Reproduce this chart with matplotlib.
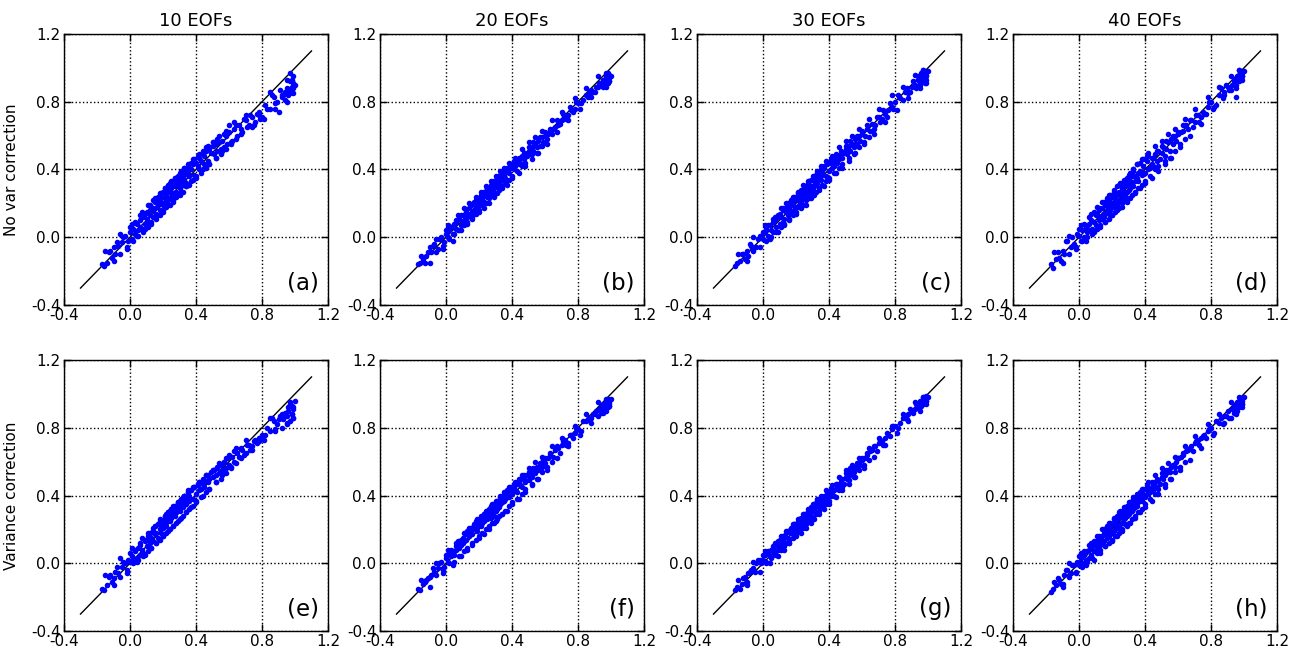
import matplotlib
matplotlib.use("Agg")
import matplotlib.pyplot as plt

# ---- data ----
col_titles = ["10 EOFs", "20 EOFs", "30 EOFs", "40 EOFs"]
row_labels = ["No var correction", "Variance correction"]
panel_tags = ["(a)", "(b)", "(c)", "(d)", "(e)", "(f)", "(g)", "(h)"]
ticks = [-0.4, 0.0, 0.4, 0.8, 1.2]
tick_labels = ["-0.4", "0.0", "0.4", "0.8", "1.2"]
diag = [-0.3, 1.1]

x_true = [
    -0.17, -0.16, -0.14, -0.12, -0.10, -0.09, -0.07, -0.05, -0.03, -0.01,
    0.00, 0.01, 0.02, 0.03, 0.04, 0.05, 0.06, 0.06, 0.07, 0.08,
    0.09, 0.10, 0.10, 0.11, 0.12, 0.12, 0.13, 0.14, 0.14, 0.15,
    0.15, 0.16, 0.17, 0.17, 0.18, 0.18, 0.19, 0.19, 0.20, 0.20,
    0.21, 0.21, 0.22, 0.22, 0.23, 0.23, 0.24, 0.24, 0.25, 0.25,
    0.26, 0.26, 0.27, 0.27, 0.28, 0.28, 0.29, 0.29, 0.30, 0.30,
    0.31, 0.31, 0.32, 0.32, 0.33, 0.33, 0.34, 0.34, 0.35, 0.36,
    0.36, 0.37, 0.38, 0.39, 0.40, 0.41, 0.42, 0.42, 0.43, 0.44,
    0.45, 0.45, 0.46, 0.47, 0.48, 0.49, 0.50, 0.51, 0.52, 0.53,
    0.54, 0.55, 0.56, 0.57, 0.58, 0.59, 0.60, 0.62, 0.63, 0.65,
    0.66, 0.68, 0.70, 0.72, 0.74, 0.76, 0.78, 0.80, 0.83, 0.86,
    0.88, 0.90, 0.92, 0.94, 0.95, 0.96, 0.97, 0.98, 0.99, 1.00,
]
x_true2 = [
    -0.13, -0.11, -0.08, -0.06, -0.04, -0.02, 0.00, 0.02, 0.03, 0.05,
    0.06, 0.08, 0.09, 0.11, 0.12, 0.13, 0.15, 0.16, 0.17, 0.18,
    0.19, 0.20, 0.21, 0.22, 0.23, 0.24, 0.25, 0.26, 0.27, 0.28,
    0.29, 0.30, 0.31, 0.32, 0.33, 0.34, 0.35, 0.36, 0.37, 0.38,
    0.39, 0.40, 0.41, 0.43, 0.44, 0.46, 0.47, 0.48, 0.50, 0.52,
    0.53, 0.55, 0.57, 0.58, 0.60, 0.61, 0.63, 0.64, 0.67, 0.69,
    0.71, 0.73, 0.75, 0.77, 0.79, 0.82, 0.85, 0.87, 0.89, 0.91,
    0.93, 0.94, 0.95, 0.96, 0.97, 0.97, 0.98, 0.98, 0.99, 0.99,
]
x_true3 = [
    -0.15, -0.10, -0.06, -0.02, 0.01, 0.04, 0.07, 0.09, 0.11, 0.13,
    0.14, 0.16, 0.18, 0.20, 0.21, 0.23, 0.24, 0.26, 0.27, 0.29,
    0.30, 0.31, 0.33, 0.34, 0.35, 0.37, 0.38, 0.40, 0.42, 0.44,
    0.46, 0.48, 0.50, 0.52, 0.54, 0.56, 0.58, 0.61, 0.64, 0.67,
    0.70, 0.74, 0.78, 0.81, 0.85, 0.88, 0.92, 0.95, 0.97, 0.99,
]

y_a = [
    -0.16, -0.17, -0.15, -0.08, -0.06, -0.10, -0.05, -0.03, 0.01, -0.02,
    0.03, -0.01, 0.05, 0.02, 0.08, 0.04, 0.10, 0.06, 0.05, 0.12,
    0.08, 0.15, 0.11, 0.09, 0.16, 0.13, 0.18, 0.12, 0.16, 0.21,
    0.17, 0.14, 0.22, 0.19, 0.25, 0.16, 0.21, 0.24, 0.19, 0.27,
    0.23, 0.26, 0.20, 0.25, 0.28, 0.22, 0.27, 0.30, 0.24, 0.29,
    0.33, 0.26, 0.30, 0.32, 0.27, 0.35, 0.31, 0.34, 0.29, 0.36,
    0.33, 0.38, 0.31, 0.35, 0.37, 0.34, 0.39, 0.32, 0.38, 0.41,
    0.36, 0.40, 0.43, 0.37, 0.44, 0.42, 0.47, 0.40, 0.45, 0.49,
    0.43, 0.48, 0.51, 0.45, 0.52, 0.50, 0.54, 0.49, 0.55, 0.51,
    0.56, 0.52, 0.57, 0.53, 0.60, 0.55, 0.62, 0.57, 0.64, 0.60,
    0.66, 0.62, 0.69, 0.66, 0.71, 0.68, 0.74, 0.71, 0.76, 0.84,
    0.79, 0.74, 0.83, 0.81, 0.88, 0.84, 0.92, 0.89, 0.95, 0.90,
]
y_a2 = [
    -0.09, -0.12, -0.03, -0.10, 0.00, -0.06, 0.06, -0.02, 0.09, 0.01,
    0.13, 0.03, 0.14, 0.06, 0.19, 0.08, 0.23, 0.11, 0.24, 0.13,
    0.26, 0.15, 0.29, 0.18, 0.31, 0.19, 0.33, 0.21, 0.35, 0.24,
    0.36, 0.25, 0.39, 0.27, 0.41, 0.30, 0.42, 0.31, 0.44, 0.34,
    0.46, 0.35, 0.48, 0.38, 0.51, 0.41, 0.54, 0.43, 0.56, 0.47,
    0.58, 0.49, 0.61, 0.52, 0.66, 0.55, 0.68, 0.58, 0.64, 0.70,
    0.65, 0.72, 0.66, 0.73, 0.70, 0.78, 0.76, 0.83, 0.80, 0.87,
    0.84, 0.86, 0.93, 0.87, 0.97, 0.85, 0.93, 0.86, 0.91, 0.88,
]
y_a3 = [
    -0.08, -0.14, 0.02, -0.07, 0.08, 0.01, 0.15, 0.05, 0.19, 0.09,
    0.22, 0.12, 0.26, 0.16, 0.29, 0.19, 0.32, 0.22, 0.35, 0.25,
    0.38, 0.27, 0.41, 0.30, 0.43, 0.33, 0.46, 0.36, 0.49, 0.40,
    0.53, 0.43, 0.56, 0.47, 0.60, 0.51, 0.63, 0.56, 0.66, 0.61,
    0.72, 0.65, 0.72, 0.70, 0.86, 0.76, 0.84, 0.80, 0.87, 0.85,
]
y_b = [
    -0.16, -0.15, -0.13, -0.11, -0.06, -0.09, -0.04, -0.07, 0.00, -0.03,
    0.02, 0.00, 0.04, 0.06, 0.02, 0.08, 0.05, 0.09, 0.04, 0.11,
    0.07, 0.13, 0.09, 0.10, 0.15, 0.11, 0.12, 0.17, 0.13, 0.14,
    0.19, 0.15, 0.20, 0.16, 0.22, 0.18, 0.17, 0.23, 0.21, 0.19,
    0.24, 0.20, 0.25, 0.23, 0.27, 0.21, 0.26, 0.25, 0.29, 0.24,
    0.28, 0.25, 0.30, 0.27, 0.31, 0.28, 0.33, 0.29, 0.32, 0.30,
    0.34, 0.30, 0.35, 0.32, 0.36, 0.33, 0.37, 0.34, 0.36, 0.39,
    0.35, 0.40, 0.38, 0.41, 0.42, 0.40, 0.44, 0.42, 0.45, 0.43,
    0.47, 0.44, 0.48, 0.46, 0.50, 0.48, 0.51, 0.49, 0.53, 0.51,
    0.55, 0.53, 0.57, 0.54, 0.59, 0.56, 0.60, 0.61, 0.62, 0.64,
    0.65, 0.66, 0.69, 0.71, 0.72, 0.75, 0.76, 0.79, 0.81, 0.83,
    0.87, 0.86, 0.89, 0.90, 0.92, 0.91, 0.94, 0.93, 0.96, 0.95,
]
y_b2 = [
    -0.15, -0.09, -0.05, -0.09, -0.01, -0.05, 0.04, -0.01, 0.06, 0.02,
    0.10, 0.04, 0.13, 0.07, 0.16, 0.09, 0.19, 0.12, 0.21, 0.14,
    0.23, 0.16, 0.25, 0.19, 0.27, 0.20, 0.29, 0.23, 0.31, 0.25,
    0.33, 0.26, 0.35, 0.28, 0.37, 0.30, 0.39, 0.32, 0.41, 0.34,
    0.43, 0.36, 0.45, 0.39, 0.47, 0.42, 0.50, 0.44, 0.53, 0.49,
    0.56, 0.50, 0.59, 0.54, 0.62, 0.58, 0.64, 0.61, 0.69, 0.67,
    0.73, 0.70, 0.77, 0.74, 0.80, 0.79, 0.84, 0.86, 0.86, 0.89,
    0.91, 0.90, 0.93, 0.92, 0.95, 0.89, 0.97, 0.91, 0.94, 0.92,
]
y_b3 = [
    -0.11, -0.15, -0.01, -0.07, 0.07, -0.02, 0.13, 0.04, 0.17, 0.08,
    0.20, 0.11, 0.24, 0.15, 0.27, 0.17, 0.30, 0.20, 0.33, 0.24,
    0.36, 0.26, 0.39, 0.29, 0.41, 0.31, 0.44, 0.35, 0.47, 0.38,
    0.52, 0.42, 0.56, 0.46, 0.59, 0.50, 0.63, 0.55, 0.69, 0.62,
    0.74, 0.69, 0.82, 0.76, 0.88, 0.83, 0.95, 0.89, 0.97, 0.92,
]
y_c = [
    -0.17, -0.15, -0.14, -0.10, -0.08, -0.11, -0.05, -0.06, -0.01, 0.01,
    -0.01, 0.03, 0.05, 0.01, 0.07, 0.04, 0.09, 0.03, 0.10, 0.06,
    0.12, 0.08, 0.14, 0.12, 0.09, 0.16, 0.11, 0.17, 0.15, 0.13,
    0.19, 0.17, 0.15, 0.21, 0.19, 0.23, 0.16, 0.22, 0.24, 0.18,
    0.22, 0.25, 0.19, 0.26, 0.24, 0.21, 0.28, 0.23, 0.27, 0.25,
    0.30, 0.24, 0.28, 0.31, 0.26, 0.33, 0.30, 0.27, 0.34, 0.29,
    0.33, 0.30, 0.35, 0.31, 0.37, 0.32, 0.35, 0.38, 0.34, 0.39,
    0.37, 0.41, 0.36, 0.43, 0.39, 0.44, 0.41, 0.45, 0.42, 0.46,
    0.44, 0.48, 0.46, 0.49, 0.47, 0.50, 0.52, 0.49, 0.54, 0.51,
    0.55, 0.53, 0.58, 0.55, 0.60, 0.57, 0.61, 0.60, 0.64, 0.63,
    0.67, 0.66, 0.71, 0.70, 0.73, 0.75, 0.77, 0.80, 0.82, 0.86,
    0.85, 0.89, 0.90, 0.93, 0.91, 0.95, 0.93, 0.97, 0.95, 0.98,
]
y_c2 = [
    -0.10, -0.13, -0.04, -0.08, -0.06, 0.01, 0.03, -0.02, 0.07, 0.00,
    0.11, 0.03, 0.13, 0.06, 0.17, 0.08, 0.20, 0.11, 0.22, 0.13,
    0.24, 0.15, 0.26, 0.18, 0.28, 0.19, 0.30, 0.22, 0.32, 0.23,
    0.34, 0.25, 0.36, 0.27, 0.38, 0.29, 0.40, 0.31, 0.42, 0.33,
    0.44, 0.35, 0.46, 0.38, 0.49, 0.41, 0.51, 0.43, 0.54, 0.47,
    0.57, 0.49, 0.60, 0.53, 0.63, 0.56, 0.66, 0.59, 0.64, 0.71,
    0.68, 0.75, 0.71, 0.79, 0.76, 0.84, 0.81, 0.88, 0.86, 0.92,
    0.88, 0.95, 0.90, 0.97, 0.92, 0.99, 0.94, 0.91, 0.96, 0.93,
]
y_c3 = [
    -0.10, -0.14, 0.00, -0.06, 0.07, -0.01, 0.12, 0.03, 0.17, 0.07,
    0.20, 0.10, 0.24, 0.14, 0.27, 0.17, 0.31, 0.19, 0.33, 0.23,
    0.36, 0.25, 0.39, 0.28, 0.42, 0.30, 0.45, 0.34, 0.48, 0.38,
    0.53, 0.41, 0.57, 0.45, 0.60, 0.50, 0.64, 0.55, 0.70, 0.61,
    0.76, 0.68, 0.84, 0.75, 0.89, 0.82, 0.96, 0.88, 0.99, 0.91,
]
y_d = [
    -0.16, -0.18, -0.13, -0.12, -0.08, -0.10, -0.02, -0.06, -0.04, 0.02,
    0.01, -0.02, 0.04, 0.00, 0.06, 0.03, 0.08, 0.04, 0.10, 0.05,
    0.09, 0.13, 0.07, 0.14, 0.10, 0.16, 0.12, 0.11, 0.17, 0.14,
    0.12, 0.19, 0.16, 0.20, 0.14, 0.22, 0.18, 0.16, 0.24, 0.20,
    0.18, 0.23, 0.21, 0.25, 0.19, 0.26, 0.22, 0.27, 0.21, 0.25,
    0.29, 0.23, 0.27, 0.30, 0.25, 0.32, 0.27, 0.31, 0.28, 0.34,
    0.29, 0.33, 0.31, 0.36, 0.30, 0.39, 0.33, 0.36, 0.35, 0.38,
    0.33, 0.39, 0.37, 0.42, 0.38, 0.45, 0.40, 0.48, 0.41, 0.43,
    0.47, 0.42, 0.49, 0.45, 0.51, 0.46, 0.50, 0.53, 0.48, 0.52,
    0.56, 0.51, 0.58, 0.55, 0.60, 0.57, 0.61, 0.62, 0.63, 0.66,
    0.64, 0.69, 0.68, 0.72, 0.71, 0.73, 0.77, 0.80, 0.78, 0.88,
    0.86, 0.89, 0.87, 0.91, 0.83, 0.94, 0.92, 0.97, 0.95, 0.98,
]
y_d2 = [
    -0.09, -0.14, -0.02, -0.10, 0.00, -0.06, 0.05, -0.02, 0.08, 0.00,
    0.12, 0.02, 0.15, 0.05, 0.17, 0.07, 0.21, 0.09, 0.23, 0.11,
    0.25, 0.13, 0.27, 0.15, 0.30, 0.17, 0.32, 0.20, 0.33, 0.22,
    0.35, 0.23, 0.38, 0.25, 0.40, 0.27, 0.43, 0.29, 0.44, 0.31,
    0.46, 0.33, 0.48, 0.36, 0.47, 0.40, 0.51, 0.42, 0.54, 0.45,
    0.57, 0.47, 0.60, 0.51, 0.62, 0.55, 0.66, 0.58, 0.69, 0.65,
    0.72, 0.68, 0.74, 0.73, 0.80, 0.77, 0.84, 0.82, 0.90, 0.87,
    0.90, 0.93, 0.90, 0.95, 0.93, 0.99, 0.96, 0.94, 0.97, 0.95,
]
y_d3 = [
    -0.09, -0.15, 0.01, -0.07, 0.07, -0.02, 0.14, 0.03, 0.18, 0.06,
    0.21, 0.09, 0.25, 0.13, 0.28, 0.16, 0.31, 0.18, 0.34, 0.21,
    0.37, 0.23, 0.40, 0.26, 0.43, 0.29, 0.46, 0.32, 0.50, 0.35,
    0.54, 0.39, 0.57, 0.43, 0.61, 0.47, 0.64, 0.53, 0.70, 0.60,
    0.76, 0.67, 0.83, 0.76, 0.89, 0.84, 0.95, 0.88, 0.99, 0.93,
]
y_e = [
    -0.15, -0.16, -0.13, -0.07, -0.09, -0.05, -0.06, -0.02, 0.00, 0.02,
    0.01, 0.04, 0.02, 0.07, 0.03, 0.09, 0.05, 0.11, 0.08, 0.06,
    0.13, 0.10, 0.14, 0.16, 0.12, 0.18, 0.15, 0.19, 0.13, 0.17,
    0.22, 0.18, 0.15, 0.23, 0.20, 0.26, 0.18, 0.23, 0.25, 0.21,
    0.27, 0.24, 0.29, 0.22, 0.26, 0.30, 0.25, 0.28, 0.32, 0.27,
    0.29, 0.34, 0.28, 0.31, 0.33, 0.30, 0.36, 0.32, 0.35, 0.31,
    0.37, 0.34, 0.39, 0.33, 0.36, 0.40, 0.35, 0.38, 0.42, 0.37,
    0.40, 0.43, 0.38, 0.45, 0.41, 0.46, 0.43, 0.48, 0.44, 0.47,
    0.49, 0.45, 0.52, 0.48, 0.50, 0.54, 0.51, 0.55, 0.52, 0.56,
    0.53, 0.58, 0.55, 0.60, 0.56, 0.62, 0.58, 0.63, 0.60, 0.65,
    0.63, 0.67, 0.65, 0.70, 0.69, 0.73, 0.72, 0.76, 0.80, 0.86,
    0.78, 0.85, 0.80, 0.87, 0.83, 0.90, 0.94, 0.88, 0.92, 0.96,
]
y_e2 = [
    -0.08, -0.11, -0.02, -0.08, 0.01, -0.04, 0.06, 0.00, 0.08, 0.02,
    0.12, 0.04, 0.14, 0.07, 0.18, 0.09, 0.22, 0.12, 0.23, 0.14,
    0.25, 0.16, 0.28, 0.18, 0.30, 0.20, 0.32, 0.22, 0.34, 0.24,
    0.36, 0.26, 0.38, 0.28, 0.40, 0.30, 0.42, 0.32, 0.43, 0.34,
    0.45, 0.36, 0.47, 0.39, 0.50, 0.42, 0.52, 0.44, 0.55, 0.48,
    0.57, 0.50, 0.60, 0.53, 0.64, 0.56, 0.66, 0.59, 0.68, 0.64,
    0.70, 0.67, 0.72, 0.71, 0.74, 0.76, 0.78, 0.84, 0.82, 0.87,
    0.85, 0.89, 0.87, 0.92, 0.84, 0.95, 0.88, 0.93, 0.86, 0.91,
]
y_e3 = [
    -0.07, -0.13, 0.03, -0.06, 0.09, 0.01, 0.15, 0.05, 0.18, 0.09,
    0.21, 0.12, 0.25, 0.16, 0.28, 0.19, 0.31, 0.22, 0.34, 0.25,
    0.37, 0.27, 0.40, 0.30, 0.43, 0.33, 0.45, 0.37, 0.48, 0.40,
    0.52, 0.44, 0.55, 0.48, 0.59, 0.52, 0.62, 0.57, 0.68, 0.62,
    0.73, 0.67, 0.74, 0.73, 0.86, 0.79, 0.88, 0.82, 0.93, 0.86,
]
y_f = [
    -0.15, -0.16, -0.12, -0.10, -0.08, -0.07, -0.05, -0.03, 0.01, -0.02,
    0.03, 0.01, 0.06, 0.04, 0.07, 0.05, 0.10, 0.08, 0.12, 0.09,
    0.11, 0.15, 0.12, 0.13, 0.17, 0.14, 0.19, 0.16, 0.20, 0.18,
    0.21, 0.17, 0.22, 0.20, 0.24, 0.21, 0.26, 0.19, 0.25, 0.23,
    0.26, 0.22, 0.28, 0.24, 0.29, 0.25, 0.27, 0.30, 0.26, 0.31,
    0.29, 0.32, 0.27, 0.33, 0.30, 0.35, 0.28, 0.33, 0.31, 0.36,
    0.34, 0.32, 0.37, 0.33, 0.38, 0.35, 0.36, 0.39, 0.37, 0.40,
    0.38, 0.41, 0.39, 0.43, 0.41, 0.44, 0.43, 0.46, 0.42, 0.47,
    0.46, 0.49, 0.45, 0.50, 0.48, 0.52, 0.49, 0.53, 0.51, 0.55,
    0.53, 0.57, 0.55, 0.58, 0.57, 0.61, 0.59, 0.62, 0.65, 0.63,
    0.67, 0.68, 0.70, 0.73, 0.71, 0.76, 0.77, 0.79, 0.84, 0.85,
    0.86, 0.88, 0.87, 0.92, 0.90, 0.94, 0.92, 0.96, 0.94, 0.97,
]
y_f2 = [
    -0.11, -0.09, -0.03, -0.07, 0.00, -0.04, 0.05, 0.00, 0.08, 0.01,
    0.12, 0.04, 0.14, 0.07, 0.18, 0.09, 0.21, 0.12, 0.23, 0.14,
    0.25, 0.16, 0.27, 0.18, 0.29, 0.20, 0.31, 0.22, 0.33, 0.24,
    0.35, 0.25, 0.37, 0.28, 0.39, 0.29, 0.41, 0.31, 0.43, 0.34,
    0.45, 0.36, 0.47, 0.38, 0.50, 0.41, 0.52, 0.44, 0.54, 0.47,
    0.56, 0.50, 0.59, 0.54, 0.62, 0.57, 0.64, 0.60, 0.69, 0.65,
    0.72, 0.70, 0.76, 0.74, 0.80, 0.78, 0.84, 0.85, 0.88, 0.90,
    0.91, 0.89, 0.94, 0.92, 0.96, 0.90, 0.97, 0.92, 0.95, 0.93,
]
y_f3 = [
    -0.10, -0.14, 0.00, -0.06, 0.08, -0.01, 0.13, 0.04, 0.18, 0.08,
    0.21, 0.11, 0.25, 0.15, 0.28, 0.17, 0.31, 0.20, 0.34, 0.24,
    0.37, 0.26, 0.40, 0.29, 0.42, 0.31, 0.45, 0.35, 0.48, 0.38,
    0.52, 0.42, 0.56, 0.46, 0.60, 0.50, 0.63, 0.55, 0.69, 0.62,
    0.74, 0.69, 0.81, 0.76, 0.88, 0.83, 0.95, 0.89, 0.97, 0.93,
]
y_g = [
    -0.16, -0.14, -0.15, -0.09, -0.11, -0.06, -0.04, -0.05, 0.02, 0.00,
    0.02, 0.05, 0.01, 0.06, 0.04, 0.08, 0.05, 0.09, 0.07, 0.11,
    0.08, 0.12, 0.14, 0.10, 0.15, 0.13, 0.16, 0.12, 0.18, 0.15,
    0.19, 0.14, 0.20, 0.18, 0.22, 0.17, 0.23, 0.20, 0.22, 0.18,
    0.24, 0.21, 0.26, 0.23, 0.25, 0.21, 0.27, 0.24, 0.28, 0.26,
    0.25, 0.29, 0.28, 0.30, 0.26, 0.31, 0.30, 0.28, 0.33, 0.31,
    0.32, 0.34, 0.30, 0.35, 0.34, 0.37, 0.33, 0.36, 0.38, 0.35,
    0.39, 0.36, 0.40, 0.38, 0.42, 0.40, 0.44, 0.41, 0.43, 0.46,
    0.44, 0.47, 0.46, 0.48, 0.50, 0.47, 0.51, 0.50, 0.53, 0.52,
    0.55, 0.54, 0.57, 0.56, 0.59, 0.58, 0.61, 0.62, 0.64, 0.66,
    0.67, 0.69, 0.71, 0.72, 0.74, 0.76, 0.79, 0.81, 0.83, 0.86,
    0.88, 0.90, 0.91, 0.93, 0.92, 0.95, 0.94, 0.97, 0.96, 0.98,
]
y_g2 = [
    -0.12, -0.08, -0.05, -0.03, 0.00, 0.02, 0.05, 0.00, 0.07, 0.03,
    0.10, 0.05, 0.13, 0.08, 0.16, 0.10, 0.19, 0.12, 0.21, 0.15,
    0.23, 0.17, 0.25, 0.19, 0.27, 0.21, 0.29, 0.23, 0.31, 0.25,
    0.33, 0.27, 0.35, 0.29, 0.37, 0.31, 0.39, 0.33, 0.40, 0.35,
    0.42, 0.37, 0.44, 0.40, 0.47, 0.43, 0.50, 0.45, 0.53, 0.49,
    0.56, 0.51, 0.59, 0.55, 0.62, 0.58, 0.65, 0.61, 0.69, 0.66,
    0.73, 0.70, 0.77, 0.75, 0.81, 0.80, 0.86, 0.85, 0.91, 0.89,
    0.94, 0.92, 0.96, 0.93, 0.98, 0.94, 0.97, 0.95, 0.99, 0.96,
]
y_g3 = [
    -0.10, -0.13, 0.01, -0.05, 0.07, 0.00, 0.12, 0.04, 0.16, 0.08,
    0.19, 0.12, 0.23, 0.16, 0.26, 0.18, 0.29, 0.21, 0.32, 0.24,
    0.35, 0.26, 0.38, 0.29, 0.40, 0.32, 0.43, 0.35, 0.46, 0.39,
    0.51, 0.43, 0.55, 0.47, 0.58, 0.51, 0.62, 0.56, 0.68, 0.63,
    0.74, 0.70, 0.81, 0.77, 0.88, 0.84, 0.95, 0.90, 0.98, 0.94,
]
y_h = [
    -0.17, -0.15, -0.13, -0.10, -0.12, -0.07, -0.04, -0.06, -0.01, 0.01,
    -0.01, 0.03, 0.00, 0.05, 0.02, 0.07, 0.03, 0.08, 0.05, 0.10,
    0.07, 0.11, 0.08, 0.13, 0.10, 0.14, 0.11, 0.16, 0.12, 0.18,
    0.13, 0.17, 0.15, 0.19, 0.16, 0.21, 0.17, 0.22, 0.18, 0.23,
    0.19, 0.24, 0.20, 0.25, 0.22, 0.26, 0.21, 0.27, 0.23, 0.29,
    0.24, 0.28, 0.26, 0.30, 0.27, 0.31, 0.28, 0.33, 0.29, 0.32,
    0.30, 0.34, 0.31, 0.35, 0.32, 0.36, 0.33, 0.37, 0.34, 0.38,
    0.36, 0.39, 0.37, 0.41, 0.39, 0.43, 0.41, 0.45, 0.42, 0.44,
    0.46, 0.43, 0.48, 0.45, 0.49, 0.47, 0.51, 0.50, 0.52, 0.53,
    0.55, 0.54, 0.57, 0.58, 0.57, 0.60, 0.62, 0.63, 0.64, 0.66,
    0.67, 0.69, 0.71, 0.73, 0.74, 0.76, 0.78, 0.80, 0.84, 0.86,
    0.87, 0.90, 0.86, 0.93, 0.91, 0.95, 0.93, 0.97, 0.94, 0.98,
]
y_h2 = [
    -0.09, -0.12, -0.04, -0.08, -0.01, -0.05, 0.04, -0.02, 0.07, 0.01,
    0.11, 0.03, 0.13, 0.06, 0.16, 0.08, 0.20, 0.10, 0.22, 0.12,
    0.24, 0.14, 0.26, 0.16, 0.28, 0.18, 0.31, 0.20, 0.32, 0.23,
    0.34, 0.24, 0.36, 0.26, 0.38, 0.28, 0.40, 0.30, 0.42, 0.32,
    0.44, 0.35, 0.46, 0.38, 0.48, 0.41, 0.50, 0.44, 0.53, 0.47,
    0.55, 0.50, 0.58, 0.54, 0.62, 0.57, 0.65, 0.60, 0.68, 0.66,
    0.72, 0.70, 0.75, 0.74, 0.79, 0.77, 0.83, 0.82, 0.87, 0.86,
    0.91, 0.89, 0.93, 0.90, 0.95, 0.92, 0.97, 0.93, 0.96, 0.94,
]
y_h3 = [
    -0.11, -0.14, 0.00, -0.06, 0.06, -0.01, 0.12, 0.02, 0.16, 0.06,
    0.20, 0.10, 0.24, 0.13, 0.27, 0.16, 0.30, 0.19, 0.33, 0.22,
    0.36, 0.24, 0.39, 0.27, 0.41, 0.30, 0.44, 0.33, 0.48, 0.37,
    0.52, 0.41, 0.56, 0.45, 0.59, 0.50, 0.63, 0.55, 0.69, 0.61,
    0.75, 0.68, 0.82, 0.76, 0.88, 0.83, 0.95, 0.88, 0.98, 0.92,
]
panels_y = [y_a, y_b, y_c, y_d, y_e, y_f, y_g, y_h]
panels_y2 = [y_a2, y_b2, y_c2, y_d2, y_e2, y_f2, y_g2, y_h2]
panels_y3 = [y_a3, y_b3, y_c3, y_d3, y_e3, y_f3, y_g3, y_h3]

# ---- layout ----
W, H = 1303, 651
fig = plt.figure(figsize=(W / 100, H / 100), dpi=100)
lefts = [64, 380, 697, 1013]
tops = [34, 360]
aw, ah = 264, 271
blue = "#0000ff"

for r in range(2):
    for c in range(4):
        i = r * 4 + c
        ax = fig.add_axes([lefts[c] / W, 1 - (tops[r] + ah) / H, aw / W, ah / H])
        ax.plot(diag, diag, color="black", lw=1.0, zorder=2)
        for xs, ys in ((x_true, panels_y[i]), (x_true2, panels_y2[i]),
                       (x_true3, panels_y3[i])):
            ax.plot(xs, ys, "o", color=blue, ms=4.0, mec="none", zorder=3)
        ax.set_xlim(-0.4, 1.2)
        ax.set_ylim(-0.4, 1.2)
        ax.set_xticks(ticks)
        ax.set_xticklabels(tick_labels)
        ax.set_yticks(ticks)
        ax.set_yticklabels(tick_labels)
        ax.tick_params(direction="in", length=5, width=1, top=True, right=True,
                       labelsize=11, pad=2.5)
        ax.grid(True, color="black", linestyle=":", lw=1.0, zorder=0)
        for s in ax.spines.values():
            s.set_linewidth(1.0)
        ax.text(0.965, 0.04, panel_tags[i], transform=ax.transAxes,
                ha="right", va="bottom", fontsize=16.5)
        if r == 0:
            ax.set_title(col_titles[c], fontsize=13, pad=6)
        if c == 0:
            ax.set_ylabel(row_labels[r], fontsize=11)
            ax.yaxis.set_label_coords(-0.172, 0.5)

fig.savefig("out.png", dpi=100)
